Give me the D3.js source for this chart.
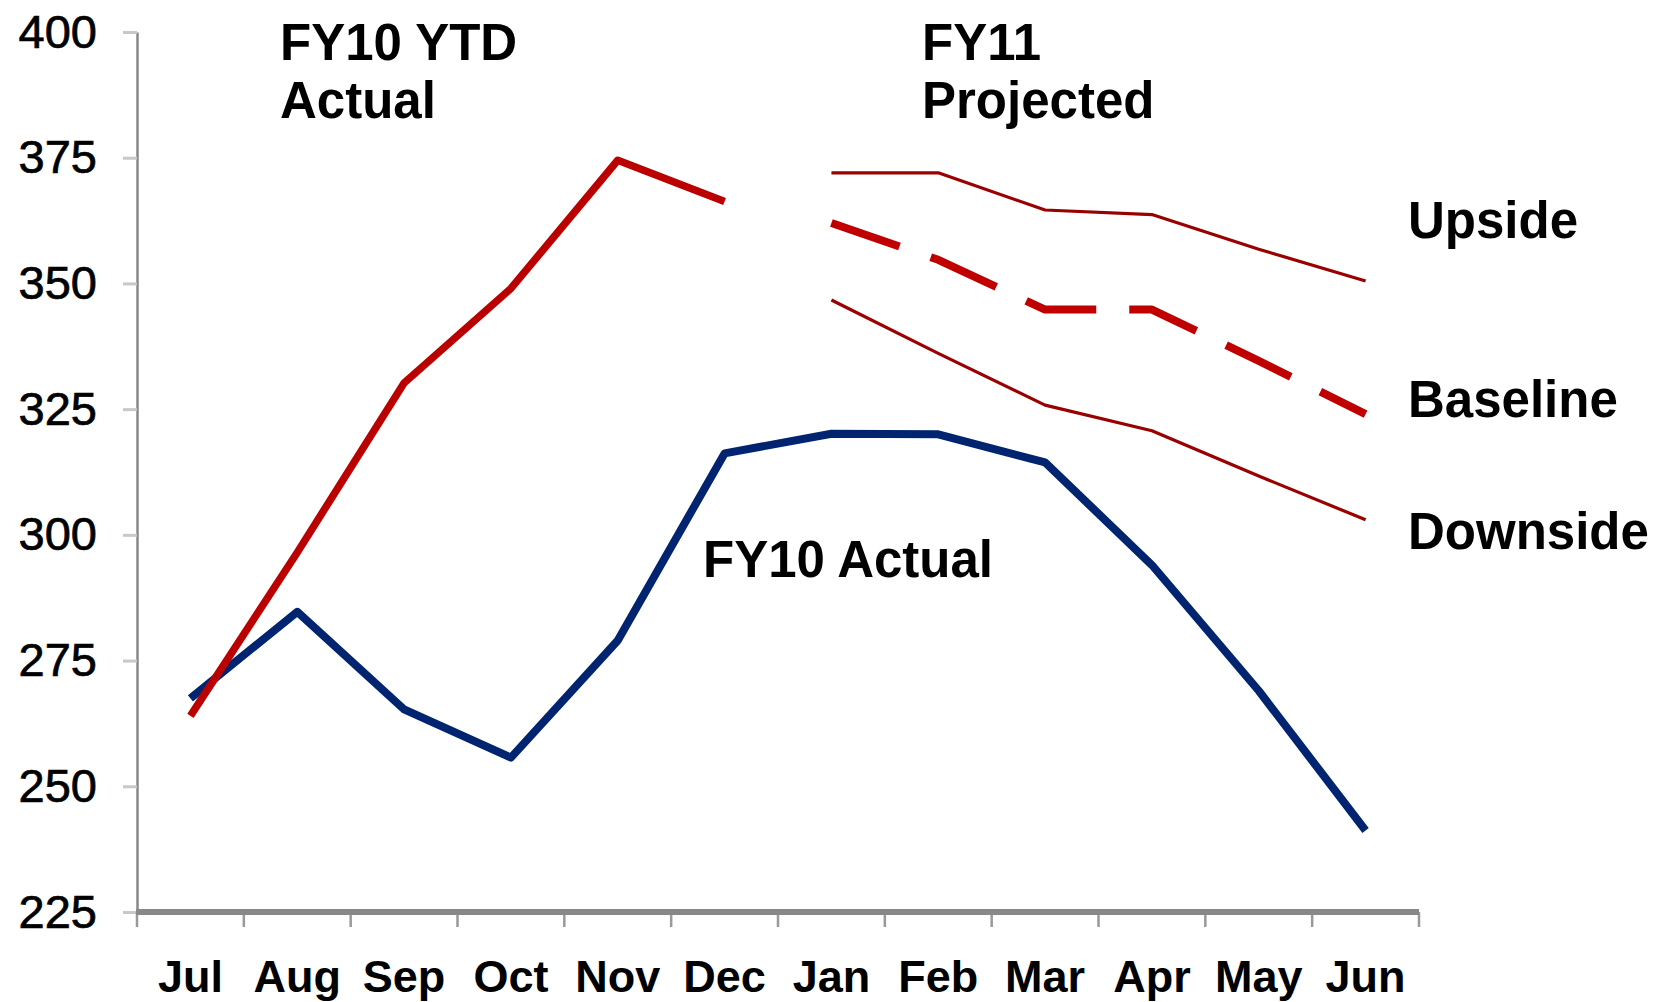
<!DOCTYPE html>
<html>
<head>
<meta charset="utf-8">
<script src="https://cdn.jsdelivr.net/npm/d3@7"></script>
<style>
  html, body { margin: 0; padding: 0; background: #fff; }
  svg text { font-family: "Liberation Sans", Arial, sans-serif; fill: #000; }
</style>
</head>
<body>
<div id="chart"></div>
<script>
// Data
const months = ["Jul", "Aug", "Sep", "Oct", "Nov", "Dec", "Jan", "Feb", "Mar", "Apr", "May", "Jun"];
const yTicks = [225, 250, 275, 300, 325, 350, 375, 400];

// FY10 actual (full year, blue)
const fy10Actual = [267.5, 284.7, 265.3, 255.7, 279.0, 316.2, 320.1, 320.0, 314.4, 294.0, 269.0, 241.2];

// FY10 YTD actual (Jul-Dec, red)
const ytdMonths = ["Jul", "Aug", "Sep", "Oct", "Nov", "Dec"];
const fy10Ytd = [264.0, 296.5, 330.2, 349.0, 374.5, 366.3];

// FY11 projections (Jan-Jun)
const projMonths = ["Jan", "Feb", "Mar", "Apr", "May", "Jun"];
const upside = [372.0, 372.0, 364.6, 363.7, 356.8, 350.5];
const baseline = [362.0, 354.7, 344.8, 344.8, 334.6, 324.0];
const downside = [346.7, 336.1, 325.8, 320.7, 311.7, 303.0];

const width = 1663, height = 1002;
const plot = {left: 137, right: 1419, top: 32, bottom: 912};

const svg = d3.select("#chart").append("svg")
  .attr("width", width)
  .attr("height", height);

const x = d3.scaleBand()
  .domain(months)
  .range([plot.left, plot.right])
  .padding(0);

const y = d3.scaleLinear()
  .domain([225, 400])
  .range([plot.bottom, plot.top]);

const cx = m => x(m) + x.bandwidth() / 2;

// Y axis
const yAxis = svg.append("g")
  .attr("transform", `translate(${plot.left},0)`)
  .call(d3.axisLeft(y).tickValues(yTicks).tickSize(14).tickSizeOuter(0).tickPadding(26));

yAxis.select(".domain")
  .attr("stroke", "#888")
  .attr("stroke-width", 2.5);
yAxis.selectAll(".tick line")
  .attr("stroke", "#c8c8c8")
  .attr("stroke-width", 3);
yAxis.selectAll(".tick text")
  .attr("font-size", "47px")
  .attr("font-family", "Liberation Sans, Arial, sans-serif")
  .attr("fill", "#000")
  .attr("stroke", "#000")
  .attr("stroke-width", 0.7);

// X axis: labels centred in each month, ticks on month boundaries
const xAxis = svg.append("g")
  .attr("transform", `translate(0,${plot.bottom})`)
  .call(d3.axisBottom(x).tickSize(0).tickPadding(48));

xAxis.select(".domain").remove();
xAxis.selectAll(".tick text")
  .attr("font-size", "45px")
  .attr("font-weight", "bold")
  .attr("font-family", "Liberation Sans, Arial, sans-serif")
  .attr("fill", "#000");

const bounds = months.map(m => x(m)).concat([plot.right]);
svg.append("g")
  .selectAll("line")
  .data(bounds)
  .enter()
  .append("line")
  .attr("x1", d => d)
  .attr("x2", d => d)
  .attr("y1", plot.bottom)
  .attr("y2", plot.bottom + 15)
  .attr("stroke", "#999")
  .attr("stroke-width", 2.5);

svg.append("line")
  .attr("x1", plot.left - 1)
  .attr("x2", plot.right)
  .attr("y1", plot.bottom)
  .attr("y2", plot.bottom)
  .attr("stroke", "#888")
  .attr("stroke-width", 6);

// Lines
const line = d3.line()
  .x(d => cx(d.m))
  .y(d => y(d.v));

const zip = (ms, vs) => ms.map((m, i) => ({m: m, v: vs[i]}));

const series = [
  {data: zip(months, fy10Actual), color: "#002470", width: 8, dash: null},
  {data: zip(ytdMonths, fy10Ytd), color: "#bb0000", width: 7.5, dash: null},
  {data: zip(projMonths, upside), color: "#990000", width: 3.2, dash: null},
  {data: zip(projMonths, downside), color: "#990000", width: 3.2, dash: null},
  {data: zip(projMonths, baseline), color: "#c00000", width: 8, dash: "72,33"}
];

series.forEach(s => {
  svg.append("path")
    .datum(s.data)
    .attr("fill", "none")
    .attr("stroke", s.color)
    .attr("stroke-width", s.width)
    .attr("stroke-linejoin", "round")
    .attr("stroke-dasharray", s.dash)
    .attr("d", line);
});

// Annotations
const notes = [
  {text: "FY10 YTD", x: 280, y: 60},
  {text: "Actual", x: 280, y: 118},
  {text: "FY11", x: 922, y: 60},
  {text: "Projected", x: 922, y: 118},
  {text: "FY10 Actual", x: 703, y: 577},
  {text: "Upside", x: 1408, y: 238},
  {text: "Baseline", x: 1408, y: 417},
  {text: "Downside", x: 1408, y: 549}
];

svg.append("g")
  .selectAll("text")
  .data(notes)
  .enter()
  .append("text")
  .attr("x", d => d.x)
  .attr("y", d => d.y)
  .attr("font-size", "51px")
  .attr("font-weight", "bold")
  .text(d => d.text);
</script>
</body>
</html>
